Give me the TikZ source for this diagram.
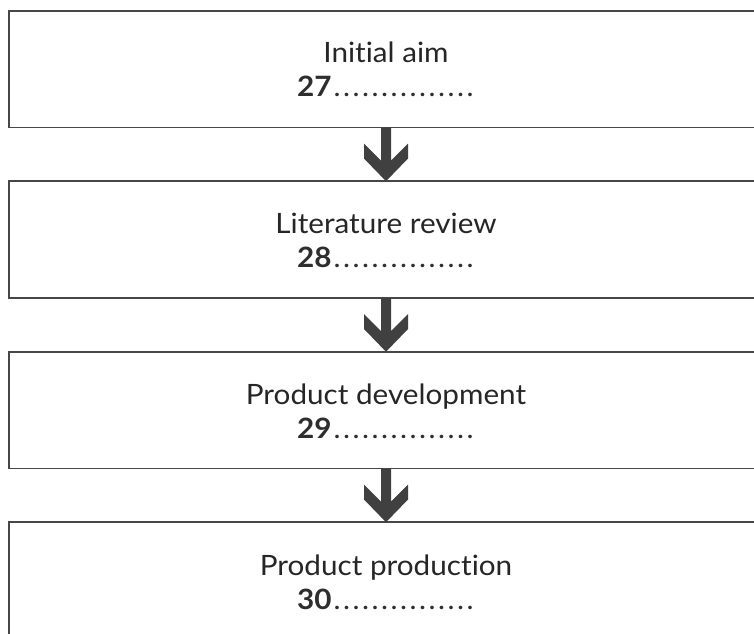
\documentclass[tikz,border=0pt]{standalone}
\usepackage{fontspec}
\setmainfont{Lato}[Ligatures=NoCommon, FakeStretch=1.06]
\usetikzlibrary{calc}
\tikzset{
  box/.style={draw=black!72, line width=1.8pt, minimum width=754pt, minimum height=116.8pt, anchor=north west, inner sep=0pt, outer sep=0pt},
  title/.style={anchor=base, font=\fontsize{28}{30}\selectfont, text=black!85, inner sep=0pt},
  num/.style={anchor=base, font=\fontsize{28}{30}\selectfont, text=black!82, inner sep=0pt},
  flow/.style={fill=black!75, draw=none},
}
\newcommand\onedot{\hbox to 9.5pt{\hss.\hss}}
\newcommand\dotrow{\kern1pt\onedot\onedot\onedot\onedot\onedot\onedot\onedot\onedot\onedot\onedot\onedot\onedot\onedot\onedot\onedot}
\begin{document}
\begin{tikzpicture}[x=1pt,y=-1pt]
\clip (0,0) rectangle (754,633);
\fill[white] (0,0) rectangle (754,633);
\node[box] (b1) at (9,10.7) {};
\node[box] (b2) at (9,181.2) {};
\node[box] (b3) at (9,351.7) {};
\node[box] (b4) at (9,522.2) {};
\node[title] (t1) at ($(b1.north)+(0,52)$) {Initial aim};
\node[num] (n1) at ($(b1.north)+(0,86)$) {\textbf{27}\dotrow};
\node[title] (t2) at ($(b2.north)+(0,52)$) {Literature review};
\node[num] (n2) at ($(b2.north)+(0,86)$) {\textbf{28}\dotrow};
\node[title] (t3) at ($(b3.north)+(0,53)$) {Product development};
\node[num] (n3) at ($(b3.north)+(0,87)$) {\textbf{29}\dotrow};
\node[title] (t4) at ($(b4.north)+(0,53)$) {Product production};
\node[num] (n4) at ($(b4.north)+(0,87)$) {\textbf{30}\dotrow};
\foreach \a/\b in {b1/b2,b2/b3,b3/b4}{
  \fill[flow] ($(\a.south)+(-5,0)$) -- ++(0,33) -- ++(-17,-17) -- ++(0,15) -- (\b.north)
    -- ++(22,-22.7) -- ++(0,-15) -- ++(-17,17) -- ($(\a.south)+(5,0)$) -- cycle;
}
\end{tikzpicture}
\end{document}
